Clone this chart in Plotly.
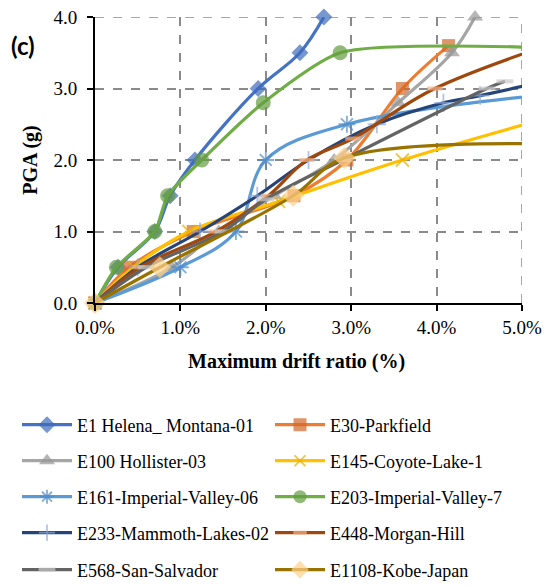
import plotly.graph_objects as go

# Drift ratio (%) vs PGA (g) for each record; points past 5 % only continue the curve
names = [
    "E1 Helena_ Montana-01", "E30-Parkfield", "E100 Hollister-03", "E145-Coyote-Lake-1",
    "E161-Imperial-Valley-06", "E203-Imperial-Valley-7", "E233-Mammoth-Lakes-02",
    "E448-Morgan-Hill", "E568-San-Salvador", "E1108-Kobe-Japan",
]
drift = [
    [0, 0.27, 0.7, 0.88, 1.17, 1.91, 2.4, 2.68],
    [0, 0.4, 1.15, 2.33, 2.95, 3.6, 4.14],
    [0, 0.9, 1.45, 2.1, 2.8, 3.55, 4.18, 4.45],
    [0, 0.45, 1.1, 2.15, 3.6, 6.0],
    [0, 1.0, 1.65, 2.0, 2.95, 6.0],
    [0, 0.25, 0.7, 0.85, 1.25, 1.97, 2.87, 5.0],
    [0, 0.5, 1.23, 1.9, 2.5, 3.3, 4.08, 4.51, 6.0],
    [0, 0.53, 1.42, 2.03, 2.48, 3.02, 3.98, 6.0],
    [0, 0.6, 1.5, 2.0, 2.9, 4.59, 4.8],
    [0, 0.76, 2.32, 2.92, 6.0],
]
pga = [
    [0, 0.5, 1.0, 1.5, 2.0, 3.0, 3.5, 4.0],
    [0, 0.5, 1.0, 1.5, 2.0, 3.0, 3.6],
    [0, 0.5, 1.0, 1.5, 2.0, 2.8, 3.5, 4.0],
    [0, 0.5, 1.0, 1.42, 2.0, 2.82],
    [0, 0.5, 1.0, 2.0, 2.5, 3.0],
    [0, 0.5, 1.0, 1.5, 2.0, 2.8, 3.5, 3.58],
    [0, 0.5, 1.0, 1.5, 2.0, 2.5, 2.8, 2.9, 3.3],
    [0, 0.5, 1.0, 1.5, 2.0, 2.3, 3.0, 3.88],
    [0, 0.5, 1.0, 1.45, 2.0, 3.0, 3.1],
    [0, 0.5, 1.5, 2.03, 2.21],
]
x_ticks = [0, 1, 2, 3, 4, 5]
x_labels = ["0.0%", "1.0%", "2.0%", "3.0%", "4.0%", "5.0%"]
y_ticks = [0, 1, 2, 3, 4]
y_labels = ["0.0", "1.0", "2.0", "3.0", "4.0"]

line_colors = ["#4472C4", "#ED7D31", "#A5A5A5", "#FFC000", "#5B9BD5",
               "#70AD47", "#264478", "#9E480E", "#636363", "#997300"]
marker_colors = ["#3F6BBA", "#D2682A", "#979797", "#E8AE00", "#4F8CCB",
                 "#629C3F", "#8FAADC", "#F4B183", "#C8C8C8", "#FFD28A"]
symbols = ["diamond", "square", "triangle-up", "x-thin", "asterisk",
           "circle", "cross-thin", "line-ew", "line-ew", "diamond"]
sizes = [13, 13, 14, 13, 14, 15, 13, 11, 12, 17]
smooth = [1.0, 1.0, 1.0, 1.0, 1.0, 0.65, 1.0, 1.0, 1.0, 1.0]
stroke_only = {"x-thin", "asterisk", "cross-thin", "line-ew"}

serif = "Liberation Serif, Times New Roman, serif"
W, H = 544, 586
L, R, T, B = 95, 22, 17, 283
plot_w, plot_h = W - L - R, H - T - B

fig = go.Figure()

for i, name in enumerate(names):
    sym = symbols[i]
    n = len(drift[i])
    # the last point of curves running off the right edge carries no marker
    msize = [0 if (xv > 5 or (xv == 5 and k == n - 1)) else sizes[i]
             for k, xv in enumerate(drift[i])]
    if sym in stroke_only:
        marker = dict(symbol=sym, size=msize, color=marker_colors[i],
                      line=dict(color=marker_colors[i], width=4 if sym == "line-ew" else 1.8))
    else:
        marker = dict(symbol=sym, size=msize, color=marker_colors[i], line=dict(width=0))
    fig.add_trace(go.Scatter(
        x=drift[i], y=pga[i], name=name, mode="lines+markers",
        line=dict(color=line_colors[i], width=3.2, shape="spline", smoothing=smooth[i]),
        marker=marker, cliponaxis=False,
        legend="legend" if i == 0 else f"legend{i + 1}",
    ))

axis_common = dict(
    showline=True, linecolor="black", linewidth=2,
    ticks="outside", ticklen=6, tickwidth=2, tickcolor="black",
    showgrid=True, gridcolor="#8A8A8A", gridwidth=1.5, griddash="dash",
    zeroline=False, automargin=False,
    tickfont=dict(family=serif, size=19, color="black"),
)
fig.update_xaxes(range=[0, 5], tickvals=x_ticks, ticktext=x_labels, **axis_common)
fig.update_yaxes(range=[0, 4], tickvals=y_ticks, ticktext=y_labels, ticklabelstandoff=6,
                 title=dict(text="<b>PGA (g)</b>",
                            font=dict(family=serif, size=20, color="black"), standoff=10),
                 **axis_common)

# dashed grid lines along the right and top edges of the plot area
edge_grid = dict(color="#8A8A8A", width=1.5, dash="dash")
shapes = [
    dict(type="line", xref="x", yref="paper", x0=5, x1=5, y0=0, y1=1, line=edge_grid, layer="below"),
    dict(type="line", xref="paper", yref="y", x0=0, x1=1, y0=4, y1=4, line=edge_grid, layer="below"),
]

annotations = [
    dict(text="<b>Maximum drift ratio (%)</b>", xref="paper", yref="paper",
         x=(296 - L) / plot_w, y=(H - B - 361) / plot_h,
         xanchor="center", yanchor="middle", showarrow=False,
         font=dict(family=serif, size=20, color="black")),
    dict(text="<b>(c)</b>", xref="paper", yref="paper",
         x=(23 - L) / plot_w, y=(H - B - 46) / plot_h,
         xanchor="center", yanchor="middle", showarrow=False,
         font=dict(family="Lato", size=24, color="black")),
]

# Legend: one entry per legend box, laid out as two columns of five rows
col_px = [17, 270]
row_px = [425, 461, 497, 533, 570]
legends = {}
for i in range(len(names)):
    key = "legend" if i == 0 else f"legend{i + 1}"
    legends[key] = dict(
        orientation="h", x=col_px[i % 2] / W, xanchor="left", xref="container",
        y=1 - row_px[i // 2] / H, yanchor="middle", yref="container",
        itemwidth=50, font=dict(family=serif, size=18, color="black"),
        bgcolor="rgba(0,0,0,0)",
    )

fig.update_layout(
    width=W, height=H,
    margin=dict(l=L, r=R, t=T, b=B),
    font=dict(family=serif, color="black"),
    paper_bgcolor="white", plot_bgcolor="white",
    showlegend=True,
    shapes=shapes,
    annotations=annotations,
    **legends,
)

fig.write_html("out.html")
